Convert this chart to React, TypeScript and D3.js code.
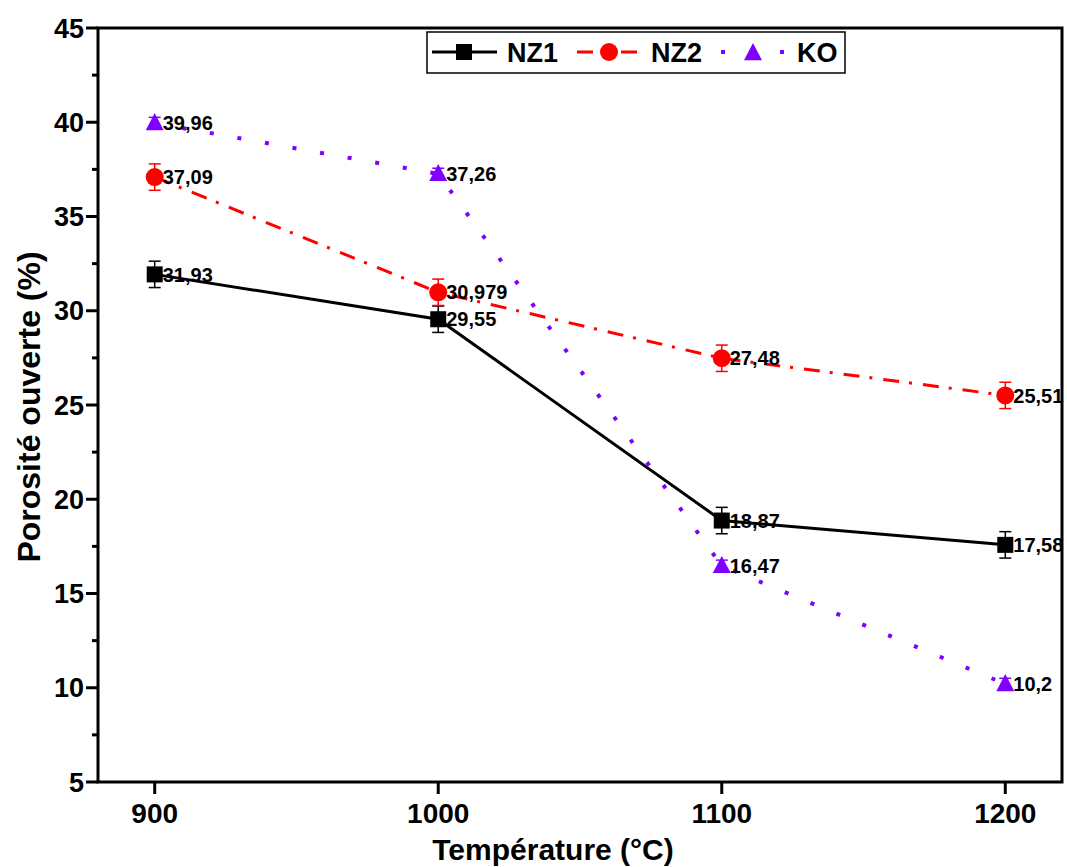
import React from "react";
import * as d3 from "d3";

const temps = [900, 1000, 1100, 1200];
const nz1 = [31.93, 29.55, 18.87, 17.58];
const nz2 = [37.09, 30.979, 27.48, 25.51];
const ko = [39.96, 37.26, 16.47, 10.2];
const nz1Err = [0.7, 0.7, 0.7, 0.7];
const nz2Err = [0.7, 0.7, 0.7, 0.7];
const koErr = [0.3, 0.3, 0.3, 0.3];
const nz1Labels = ["31,93", "29,55", "18,87", "17,58"];
const nz2Labels = ["37,09", "30,979", "27,48", "25,51"];
const koLabels = ["39,96", "37,26", "16,47", "10,2"];
const yTicks = [5, 10, 15, 20, 25, 30, 35, 40, 45];
const yMinor = [7.5, 12.5, 17.5, 22.5, 27.5, 32.5, 37.5, 42.5];
const xTicks = [900, 1000, 1100, 1200];

const W = 1067, H = 867;
const L = 98, T = 28, R = 1062, B = 782;
const FONT = "Liberation Sans, Arial, sans-serif";
const PURPLE = "#7f00ff";

export default function App() {
  const x = d3.scaleLinear().domain([880, 1220]).range([L, R]);
  const y = d3.scaleLinear().domain([5, 45]).range([B, T]);
  const line = d3.line<number>().x((_, i) => x(temps[i])).y((d) => y(d));

  const errBars = (vals: number[], errs: number[], color: string) =>
    vals.map((v, i) => (
      <g key={i} stroke={color} strokeWidth={1.5}>
        <line x1={x(temps[i])} x2={x(temps[i])} y1={y(v + errs[i])} y2={y(v - errs[i])} />
        <line x1={x(temps[i]) - 6} x2={x(temps[i]) + 6} y1={y(v + errs[i])} y2={y(v + errs[i])} />
        <line x1={x(temps[i]) - 6} x2={x(temps[i]) + 6} y1={y(v - errs[i])} y2={y(v - errs[i])} />
      </g>
    ));

  const labels = (vals: number[], labs: string[]) =>
    vals.map((v, i) => (
      <text key={i} x={x(temps[i]) + 8} y={y(v)} dy="0.36em" fontSize={20} fontWeight="bold" fill="#000">
        {labs[i]}
      </text>
    ));

  const tri = (cx: number, cy: number, s: number) =>
    `M${cx},${cy - s * 0.55}L${cx + s / 2},${cy + s * 0.4}L${cx - s / 2},${cy + s * 0.4}Z`;

  return (
    <svg width={W} height={H} style={{ position: "absolute", left: 0, top: 0, background: "#fff" }} fontFamily={FONT}>
      <rect x={0} y={0} width={W} height={H} fill="#fff" />
      {/* lines */}
      <path d={line(nz1) || ""} fill="none" stroke="#000" strokeWidth={3} />
      <path d={line(nz2) || ""} fill="none" stroke="#ff0000" strokeWidth={3} strokeDasharray="16 10 3 11" />
      <path d={line(ko) || ""} fill="none" stroke={PURPLE} strokeWidth={4} strokeDasharray="4 24" />
      {/* error bars */}
      {errBars(nz1, nz1Err, "#000")}
      {errBars(nz2, nz2Err, "#ff0000")}
      {errBars(ko, koErr, PURPLE)}
      {/* markers */}
      {nz1.map((v, i) => (
        <rect key={i} x={x(temps[i]) - 8} y={y(v) - 8} width={16} height={16} fill="#000" />
      ))}
      {nz2.map((v, i) => (
        <circle key={i} cx={x(temps[i])} cy={y(v)} r={9} fill="#ff0000" />
      ))}
      {ko.map((v, i) => (
        <path key={i} d={tri(x(temps[i]), y(v), 18)} fill={PURPLE} />
      ))}
      {/* data labels */}
      {labels(nz1, nz1Labels)}
      {labels(nz2, nz2Labels)}
      {labels(ko, koLabels)}
      {/* frame */}
      <rect x={L} y={T} width={R - L} height={B - T} fill="none" stroke="#000" strokeWidth={3} />
      {/* y ticks */}
      {yTicks.map((t) => (
        <g key={t}>
          <line x1={L - 12} x2={L} y1={y(t)} y2={y(t)} stroke="#000" strokeWidth={3} />
          <text x={L - 14} y={y(t)} dy="0.36em" textAnchor="end" fontSize={27} fontWeight="bold">{t}</text>
        </g>
      ))}
      {yMinor.map((t) => (
        <line key={t} x1={L - 6} x2={L} y1={y(t)} y2={y(t)} stroke="#000" strokeWidth={3} />
      ))}
      {/* x ticks */}
      {xTicks.map((t) => (
        <g key={t}>
          <line x1={x(t)} x2={x(t)} y1={B} y2={B + 12} stroke="#000" strokeWidth={3} />
          <text x={x(t)} y={B + 41} textAnchor="middle" fontSize={28} fontWeight="bold">{t}</text>
        </g>
      ))}
      {/* axis titles */}
      <text x={(L + R) / 2 - 27} y={860} textAnchor="middle" fontSize={30} fontWeight="bold">Température (°C)</text>
      <text transform={`translate(40,${(T + B) / 2 + 2}) rotate(-90)`} textAnchor="middle" fontSize={32} fontWeight="bold">Porosité ouverte (%)</text>
      {/* legend */}
      <g>
        <rect x={427} y={32} width={418} height={41} fill="#fff" stroke="#000" strokeWidth={1.5} />
        <line x1={432} x2={497} y1={52} y2={52} stroke="#000" strokeWidth={3} />
        <rect x={456} y={44} width={16} height={16} fill="#000" />
        <text x={507} y={52} dy="0.36em" fontSize={27} fontWeight="bold">NZ1</text>
        <line x1={577} x2={637} y1={52} y2={52} stroke="#ff0000" strokeWidth={3} strokeDasharray="16 28" />
        <circle cx={609} cy={52} r={9} fill="#ff0000" />
        <text x={651} y={52} dy="0.36em" fontSize={27} fontWeight="bold">NZ2</text>
        <line x1={721} x2={785} y1={52} y2={52} stroke={PURPLE} strokeWidth={4} strokeDasharray="4 25.5" />
        <path d={tri(753, 53, 18)} fill={PURPLE} />
        <text x={797} y={52} dy="0.36em" fontSize={27} fontWeight="bold">KO</text>
      </g>
    </svg>
  );
}
